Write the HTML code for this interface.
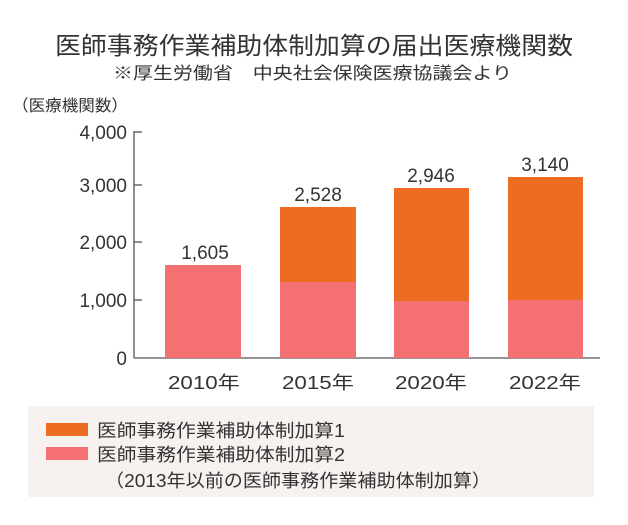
<!DOCTYPE html>
<html><head><meta charset="utf-8"><style>
body{margin:0;background:#fff;width:628px;height:520px;overflow:hidden;font-family:"Liberation Sans","Noto Sans CJK JP",sans-serif;color:#333}
svg text{font-family:"Liberation Sans","Noto Sans CJK JP",sans-serif;fill:#333}
</style></head><body>
<svg width="628" height="520" xmlns="http://www.w3.org/2000/svg">
<text x="55" y="54" font-size="24" textLength="518" lengthAdjust="spacingAndGlyphs">医師事務作業補助体制加算の届出医療機関数</text>
<text x="113" y="79" font-size="17" textLength="399" lengthAdjust="spacingAndGlyphs">※厚生労働省　中央社会保険医療協議会より</text>
<text x="12" y="111" font-size="16" textLength="116" lengthAdjust="spacingAndGlyphs">（医療機関数）</text>
<g font-size="19" text-anchor="end">
<text x="127" y="139">4,000</text>
<text x="127" y="192">3,000</text>
<text x="127" y="249">2,000</text>
<text x="127" y="307">1,000</text>
<text x="127" y="365">0</text>
</g>
<g stroke="#555" stroke-width="1.3">
<line x1="134" y1="131" x2="134" y2="358"/>
<line x1="134" y1="358" x2="600" y2="358"/>
<line x1="134" y1="132" x2="142" y2="132"/>
<line x1="134" y1="185" x2="142" y2="185"/>
<line x1="134" y1="242" x2="142" y2="242"/>
<line x1="134" y1="300" x2="142" y2="300"/>
</g>
<rect x="165" y="265" width="76" height="93" fill="#f57073"/>
<rect x="280" y="207" width="76" height="75" fill="#ec6c22"/>
<rect x="280" y="282" width="76" height="76" fill="#f57073"/>
<rect x="394" y="188" width="75" height="113" fill="#ec6c22"/>
<rect x="394" y="301" width="75" height="57" fill="#f57073"/>
<rect x="508" y="177" width="75" height="123" fill="#ec6c22"/>
<rect x="508" y="300" width="75" height="58" fill="#f57073"/>
<g font-size="19" text-anchor="middle">
<text x="205" y="259">1,605</text>
<text x="318" y="201">2,528</text>
<text x="431" y="182">2,946</text>
<text x="545" y="171">3,140</text>
</g>
<g font-size="18">
<text x="168" y="389" textLength="72" lengthAdjust="spacingAndGlyphs">2010年</text>
<text x="282" y="389" textLength="72" lengthAdjust="spacingAndGlyphs">2015年</text>
<text x="395" y="389" textLength="72" lengthAdjust="spacingAndGlyphs">2020年</text>
<text x="509" y="389" textLength="72" lengthAdjust="spacingAndGlyphs">2022年</text>
</g>
<rect x="28" y="406" width="566" height="91" fill="#f7f2f0"/>
<rect x="46" y="423" width="42" height="13" fill="#ec6c22"/>
<rect x="46" y="447" width="42" height="13" fill="#f57073"/>
<g font-size="18">
<text x="97" y="437" textLength="248" lengthAdjust="spacingAndGlyphs">医師事務作業補助体制加算1</text>
<text x="97" y="461" textLength="248" lengthAdjust="spacingAndGlyphs">医師事務作業補助体制加算2</text>
<text x="105" y="487" textLength="386" lengthAdjust="spacingAndGlyphs">（2013年以前の医師事務作業補助体制加算）</text>
</g>
</svg>
</body></html>
